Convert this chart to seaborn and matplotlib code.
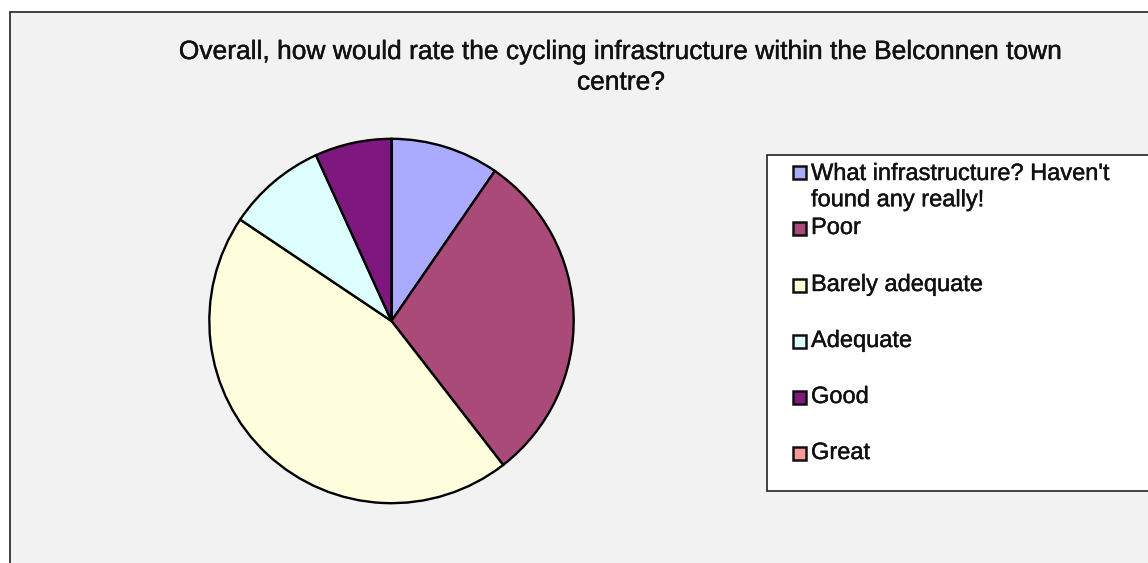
import matplotlib
matplotlib.use("Agg")
import matplotlib.pyplot as plt
import matplotlib.patheffects as pe
from matplotlib.patches import Rectangle
import seaborn as sns

# answer shares (%), clockwise from 12 o'clock
labels = ["What infrastructure? Haven't\nfound any really!", "Poor", "Barely adequate",
          "Adequate", "Good", "Great"]
shares = [9.6, 29.9, 44.9, 8.8, 6.8, 0.0]
colors = ["#AAAAFF", "#A94A78", "#FFFFDD", "#DDFFFF", "#7E187E", "#FF9999"]
title = "Overall, how would rate the cycling infrastructure within the Belconnen town\ncentre?"

sns.set_style("white")
plt.rcParams['font.family'] = ['Liberation Sans', 'DejaVu Sans']

W, H = 1148, 563
fig = plt.figure(figsize=(W / 100, H / 100), dpi=100, facecolor="white")
heavy = [pe.withStroke(linewidth=0.3, foreground="#111111")]


def box(x, y, w, h):
    # pixel box (top-left origin) -> figure fraction rect
    return [x / W, 1 - (y + h) / H, w / W, h / H]


# chart area (runs off the right/bottom of the image)
fig.patches.append(Rectangle((10 / W, -0.1), 1.2, 1 - 12 / H + 0.1,
                             transform=fig.transFigure, facecolor="#F2F2F2",
                             edgecolor="#222222", linewidth=1.2, zorder=-5))

fig.text(621 / W, 1 - 40 / H, title, ha="center", va="top", fontsize=19,
         linespacing=1.35, color="#111111", path_effects=heavy)

# pie
cx, cy, r = 391.5, 321, 184
ax = fig.add_axes(box(cx - r, cy - r, 2 * r, 2 * r))
ax.pie(shares, colors=sns.color_palette(colors), startangle=90, counterclock=False,
       radius=1, wedgeprops=dict(edgecolor="black", linewidth=1.7))
ax.set_xlim(-1.01, 1.01)
ax.set_ylim(-1.01, 1.01)
ax.set_aspect("equal")
ax.axis("off")

# legend box drawn like the spreadsheet one
lx, ly, lw, lh = 767, 155, 400, 336
lax = fig.add_axes(box(lx, ly, lw, lh))
lax.set_xlim(lx, lx + lw)
lax.set_ylim(ly + lh, ly)
lax.axis("off")
lax.add_patch(Rectangle((lx, ly), lw, lh, facecolor="white", edgecolor="#222222",
                        linewidth=1.2, clip_on=False))
rows = [172, 228, 285, 341, 397, 453]
for lab, col, yy in zip(labels, colors, rows):
    lax.add_patch(Rectangle((793, yy - 6.5), 13, 13, facecolor=col,
                            edgecolor="#111111", linewidth=1.8))
    if "\n" in lab:
        lax.text(811, yy - 9, lab, ha="left", va="top", fontsize=17,
                 linespacing=1.25, color="#111111", path_effects=heavy)
    else:
        lax.text(811, yy, lab, ha="left", va="center", fontsize=17, color="#111111",
                 path_effects=heavy)

fig.savefig("out.png", dpi=100, facecolor="white")
